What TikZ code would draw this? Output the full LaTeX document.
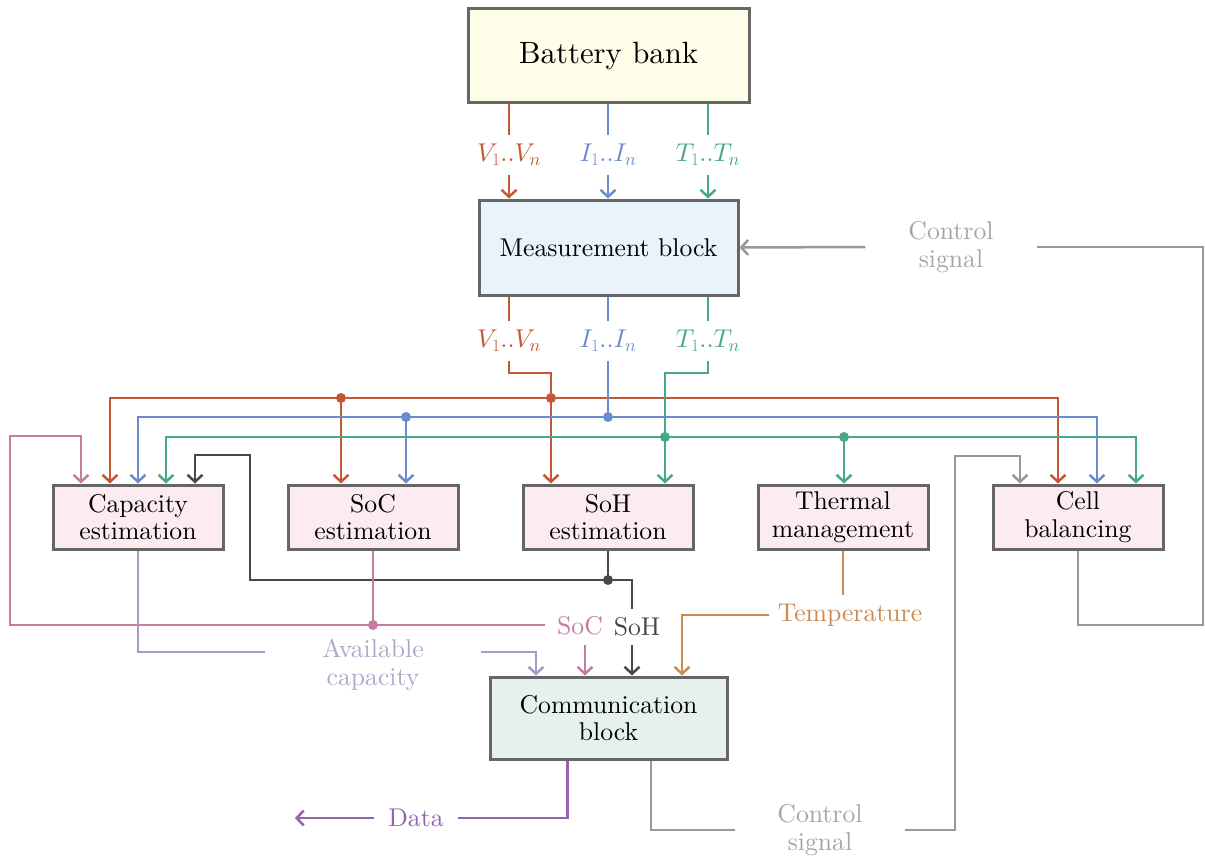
\documentclass[tikz,border=0pt]{standalone}
\usepackage{fontspec}
\setmainfont{lmroman10-regular.otf}
\DeclareFontShape{OML}{cmm}{m}{it}{<->cmmi10}{}
\usetikzlibrary{arrows.meta,calc}
\definecolor{cred}{RGB}{197,88,52}
\definecolor{cblue}{RGB}{106,140,204}
\definecolor{cgreen}{RGB}{72,166,140}
\definecolor{cpink}{RGB}{196,124,160}
\definecolor{clav}{RGB}{168,154,196}
\definecolor{clavt}{RGB}{176,166,204}
\definecolor{ctan}{RGB}{202,138,82}
\definecolor{cpurp}{RGB}{150,98,172}
\definecolor{cgray}{RGB}{152,152,152}
\definecolor{cgrayt}{RGB}{165,165,165}
\definecolor{cdark}{RGB}{72,72,72}
\definecolor{cborder}{RGB}{102,102,102}
\definecolor{fbat}{RGB}{254,253,232}
\definecolor{fmeas}{RGB}{232,243,252}
\definecolor{fest}{RGB}{252,236,240}
\definecolor{fcomm}{RGB}{230,240,236}
\begin{document}
\begin{tikzpicture}[x=1pt,y=-1pt,
  nf/.style={font=\fontsize{25.7}{27.5}\selectfont},
  box/.style={draw=cborder, line width=3pt, align=center, inner sep=0pt, nf},
  est/.style={box, fill=fest, minimum width=170pt, minimum height=64pt},
  lab/.style={nf, inner sep=0pt, align=center},
  conn/.style={line width=2.5pt},
  arr/.style={conn, -{Straight Barb[length=7pt,width=15pt]}},
  dotr/.style={radius=5pt},
]
\path[use as bounding box] (0,0) rectangle (1205,856);

% main blocks
\node[box, fill=fbat, minimum width=281pt, minimum height=94pt, font=\fontsize{30.8}{34}\selectfont] (bat) at (608.5,56) {Battery bank};
\node[box, fill=fmeas, minimum width=259pt, minimum height=95pt] (meas) at (608.5,247.5) {Measurement block};
\node[box, fill=fcomm, minimum width=237pt, minimum height=82pt] (comm) at (608.5,718) {Communication\\block};

\node[est] (cap) at (138,517) {Capacity\\estimation};
\node[est] (soc) at (373,517) {SoC\\estimation};
\node[est] (soh) at (608,517) {SoH\\estimation};
\node[est] (therm) at (843,517) {Thermal\\management};
\node[est] (cell) at (1078,517) {Cell\\balancing};

% labels between battery and measurement
\node[lab, text=cred, minimum height=40pt] (vl1) at (509,155) {$V_1..V_n$};
\node[lab, text=cblue, minimum height=40pt] (il1) at (608,155) {$I_1..I_n$};
\node[lab, text=cgreen, minimum height=40pt] (tl1) at (708,155) {$T_1..T_n$};
\node[lab, text=cred, minimum height=40pt] (vl2) at (509,341) {$V_1..V_n$};
\node[lab, text=cblue, minimum height=40pt] (il2) at (608,341) {$I_1..I_n$};
\node[lab, text=cgreen, minimum height=40pt] (tl2) at (708,341) {$T_1..T_n$};

% other labels
\node[lab, text=cgrayt, inner xsep=43pt] (ctl1) at (951,247) {Control\\signal};
\node[lab, text=cgrayt, inner xsep=42pt] (ctl2) at (820,830) {Control\\signal};
\node[lab, text=cpink, inner xsep=12pt, minimum height=38pt] (socl) at (580,626) {SoC};
\node[lab, text=cdark, minimum height=36pt] (sohl) at (637,627) {SoH};
\node[lab, text=clavt, inner xsep=57pt] (avl) at (373,665) {Available\\capacity};
\node[lab, text=ctan, inner xsep=9pt, minimum height=40pt] (templ) at (850,615) {Temperature};
\node[lab, text=cpurp, inner xsep=14pt] (datal) at (416,818) {Data};

% junction coordinates
\coordinate (jr1) at (341,398);
\coordinate (jr2) at (551,398);
\coordinate (jb1) at (406,417);
\coordinate (jb2) at (608,417);
\coordinate (jg1) at (665,437);
\coordinate (jg2) at (844,437);
\coordinate (jd) at (608,580);
\coordinate (jp) at (373,625);
\coordinate (dk1) at (250,580);
\coordinate (dk2) at (250,455);
\coordinate (pk1) at (10,625);
\coordinate (pk2) at (10,436);
\coordinate (sh1) at (632,580);
\coordinate (gr1) at (955,830);
\coordinate (gr2) at (955,456);
\coordinate (cb1) at (1078,625);
\coordinate (cb2) at (1203,625);
\coordinate (cb3) at (1203,247);
\coordinate (dataend) at (295,818);

% battery -> measurement
\draw[conn,cred] (bat.south -| vl1) -- (vl1.north);
\draw[arr,cred] (vl1.south) -- (vl1.south |- meas.north);
\draw[conn,cblue] (bat.south -| il1) -- (il1.north);
\draw[arr,cblue] (il1.south) -- (il1.south |- meas.north);
\draw[conn,cgreen] (bat.south -| tl1) -- (tl1.north);
\draw[arr,cgreen] (tl1.south) -- (tl1.south |- meas.north);

% measurement -> labels
\draw[conn,cred] (meas.south -| vl2) -- (vl2.north);
\draw[conn,cblue] (meas.south -| il2) -- (il2.north);
\draw[conn,cgreen] (meas.south -| tl2) -- (tl2.north);

% red bus
\draw[arr,cred] (vl2.south) -- ++(0,12) -| ([xshift=-57pt]soh.north);
\draw[arr,cred] (jr2) -| ([xshift=-28pt]cap.north);
\draw[arr,cred] (jr2) -| ([xshift=-20pt]cell.north);
\draw[arr,cred] (jr1) -- ([xshift=-32pt]soc.north);
% blue bus
\draw[conn,cblue] (il2.south) -- (jb2);
\draw[arr,cblue] (jb2) -| (cap.north);
\draw[arr,cblue] (jb2) -| ([xshift=19pt]cell.north);
\draw[arr,cblue] (jb1) -- ([xshift=33pt]soc.north);
% green bus
\draw[arr,cgreen] (tl2.south) -- ++(0,12) -| ([xshift=57pt]soh.north);
\draw[arr,cgreen] (jg1) -| ([xshift=28pt]cap.north);
\draw[arr,cgreen] (jg1) -| ([xshift=58pt]cell.north);
\draw[arr,cgreen] (jg2) -- (jg2 |- therm.north);

% SoH feedback
\draw[conn,cdark] (soh.south) -- (jd);
\draw[arr,cdark] (jd) -- (dk1) -- (dk2) -| ([xshift=57pt]cap.north);
\draw[conn,cdark] (jd) -- (sh1) -- (sh1 |- sohl.north);
\draw[arr,cdark] (sh1 |- sohl.south) -- ([xshift=23.5pt]comm.north);

% SoC
\draw[conn,cpink] (soc.south) -- (jp);
\draw[arr,cpink] (socl.west |- jp) -- (pk1) -- (pk2) -| ([xshift=-57pt]cap.north);
\draw[arr,cpink] ([xshift=5pt]socl.south) -- ([xshift=-23.5pt]comm.north);

% available capacity
\draw[conn,clav] (cap.south) |- ([yshift=13pt]avl.west);
\draw[arr,clav] ([yshift=13pt]avl.east) -| ([xshift=-72.5pt]comm.north);

% temperature
\draw[conn,ctan] (therm.south) -- (therm.south |- templ.north);
\draw[arr,ctan] (templ.west) -| ([xshift=73.5pt]comm.north);

% data
\draw[conn,cpurp] ([xshift=-41pt]comm.south) |- (datal.east);
\draw[arr,cpurp] (datal.west) -- (dataend);

% control signals
\draw[conn,cgray] ([xshift=42.5pt]comm.south) |- (ctl2.west);
\draw[arr,cgray] (ctl2.east) -- (gr1) -- (gr2) -| ([xshift=-58pt]cell.north);
\draw[conn,cgray] (cell.south) -- (cb1) -- (cb2) -- (cb3) -- (ctl1.east);
\draw[arr,cgray] (ctl1.west) -- (meas.east);

% dots
\fill[cred] (jr1) circle[dotr];
\fill[cred] (jr2) circle[dotr];
\fill[cblue] (jb1) circle[dotr];
\fill[cblue] (jb2) circle[dotr];
\fill[cgreen] (jg1) circle[dotr];
\fill[cgreen] (jg2) circle[dotr];
\fill[cdark] (jd) circle[dotr];
\fill[cpink] (jp) circle[dotr];
\end{tikzpicture}
\end{document}
